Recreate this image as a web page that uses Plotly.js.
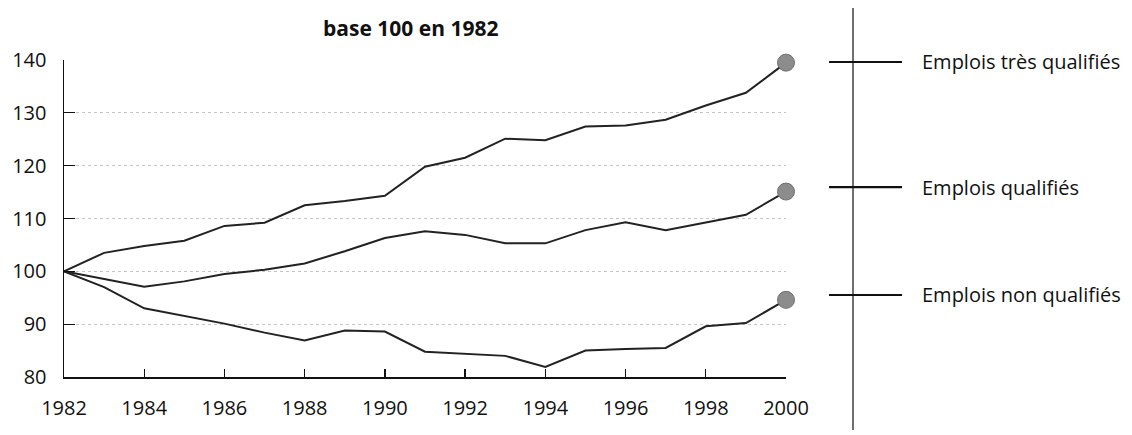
<!DOCTYPE html>
<html>
<head>
<meta charset="utf-8">
<script src="https://cdn.plot.ly/plotly-3.0.1.min.js"></script>
<style>html,body{margin:0;padding:0;background:#fff;}#chart{width:1132px;height:435px;}</style>
</head>
<body>
<div id="chart"></div>
<script>
// Data (index, base 100 en 1982)
const years = [1982,1983,1984,1985,1986,1987,1988,1989,1990,1991,1992,1993,1994,1995,1996,1997,1998,1999,2000];
const tresQualifies = [100,103.5,104.8,105.8,108.6,109.2,112.5,113.3,114.3,119.8,121.5,125.1,124.8,127.4,127.6,128.7,131.4,133.8,139.5];
const qualifies     = [100,98.5,97.1,98.1,99.5,100.3,101.5,103.8,106.3,107.6,106.9,105.3,105.3,107.8,109.3,107.8,109.2,110.7,115.1];
const nonQualifies  = [100,97.0,93.0,91.6,90.1,88.4,86.9,88.8,88.6,84.8,84.4,84.0,81.9,85.0,85.3,85.5,89.6,90.2,94.6];
const seriesNames = ['Emplois très qualifiés','Emplois qualifiés','Emplois non qualifiés'];
const xTicks = [1982,1984,1986,1988,1990,1992,1994,1996,1998,2000];
const yTicks = [80,90,100,110,120,130,140];
const chartTitle = 'base 100 en 1982';

const FONT = '"Open Sans", "Noto Sans", sans-serif';
const lineColor = '#222';
const dotColor = '#8c8c8c';

const allSeries = [tresQualifies, qualifies, nonQualifies];
const traces = [];
allSeries.forEach((vals, i) => {
  traces.push({
    x: years, y: vals, type: 'scatter', mode: 'lines', name: seriesNames[i],
    line: {color: lineColor, width: 2}, hoverinfo: 'x+y', cliponaxis: false, showlegend: false
  });
  traces.push({
    x: [years[years.length-1]], y: [vals[vals.length-1]], type: 'scatter', mode: 'markers',
    marker: {color: dotColor, size: 17, line: {color: '#6e6e6e', width: 1}},
    cliponaxis: false, showlegend: false, hoverinfo: 'skip'
  });
});

// legend decorations (paper coords)
const legendY = [0.9937, 0.599, 0.2587];
const shapes = [
  {type: 'line', xref: 'paper', yref: 'paper', x0: 1.0928, x1: 1.0928, y0: -0.167, y1: 1.164,
   line: {color: '#222', width: 1.3}}
];
const annotations = [
  {text: '<b>' + chartTitle + '</b>', xref: 'paper', yref: 'paper', x: 0.4806, y: 1.101,
   xanchor: 'center', yanchor: 'middle', showarrow: false, font: {family: FONT, size: 21, color: '#111'}}
];
legendY.forEach((ly, i) => {
  shapes.push({type: 'line', xref: 'paper', yref: 'paper', x0: 1.0596, x1: 1.1607, y0: ly, y1: ly,
    line: {color: '#111', width: 2.2}});
  annotations.push({text: seriesNames[i], xref: 'paper', yref: 'paper', x: 1.1856, y: ly,
    xanchor: 'left', yanchor: 'middle', showarrow: false, font: {family: FONT, size: 20, color: '#111'}});
});

const layout = {
  width: 1132, height: 435,
  margin: {l: 64, r: 346, t: 60, b: 58},
  paper_bgcolor: '#fff', plot_bgcolor: '#fff',
  font: {family: FONT, size: 20, color: '#111'},
  xaxis: {
    range: [1982, 2000], tickvals: xTicks, ticktext: xTicks.map(String),
    showgrid: false, zeroline: false, showline: true, linecolor: '#111', linewidth: 1.5,
    ticks: 'inside', ticklen: 8, tickcolor: '#111', tickwidth: 1.3,
    tickfont: {family: FONT, size: 20, color: '#111'}, ticklabelstandoff: 12, fixedrange: true
  },
  yaxis: {
    range: [80, 140], tickvals: yTicks, ticktext: yTicks.map(String),
    showgrid: true, gridcolor: '#c4c4c4', gridwidth: 1, griddash: 'dot',
    zeroline: false, showline: true, linecolor: '#111', linewidth: 1.5,
    ticks: 'inside', ticklen: 11, tickcolor: '#111', tickwidth: 1.3,
    tickfont: {family: FONT, size: 20, color: '#111'}, ticklabelstandoff: 12, fixedrange: true
  },
  shapes: shapes,
  annotations: annotations,
  showlegend: false
};

Plotly.newPlot('chart', traces, layout, {displayModeBar: false, staticPlot: true});
</script>
</body>
</html>
